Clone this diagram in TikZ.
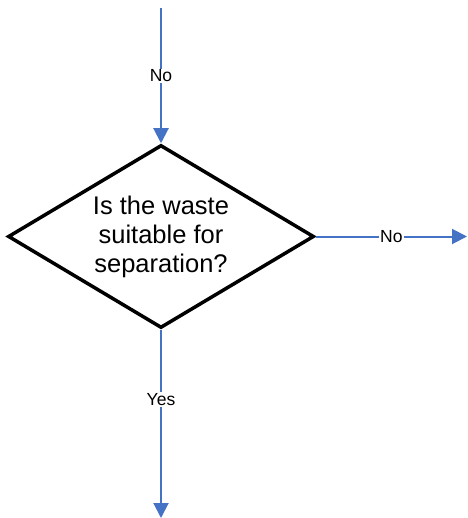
\documentclass[tikz,border=0pt]{standalone}
\usepackage{fontspec}
\setmainfont{Liberation Sans}
\usetikzlibrary{shapes.geometric,arrows.meta}
\definecolor{flowblue}{HTML}{4472C4}
\begin{document}
\begin{tikzpicture}[x=1pt,y=-1pt,
  decision/.style={diamond, draw=black, line width=3.5pt, aspect=1.674,
    minimum width=306pt, minimum height=183pt, inner sep=0pt, align=center,
    font=\fontsize{25.5}{29}\selectfont},
  flow/.style={draw=flowblue, line width=2pt,
    -{Triangle[width=15pt,length=15pt]}},
  flowlabel/.style={fill=white, inner sep=1pt, font=\fontsize{17.5}{20}\selectfont}
]
\useasboundingbox (0,0) rectangle (467,518);
\node[decision] (q) at (161,236.5) {Is the waste\\suitable for\\separation?};
\coordinate (in) at (161,8);
\coordinate (right) at (467,236.5);
\coordinate (down) at (161,518);
\draw[flow] (in) -- node[flowlabel, pos=0.5] (nin) {No} (q.north);
\draw[flow] (q.east) -- node[flowlabel, pos=0.5] (nright) {No} (right);
\draw[flow] (q.south) -- node[flowlabel, pos=0.37] (nyes) {Yes} (down);
\end{tikzpicture}
\end{document}
